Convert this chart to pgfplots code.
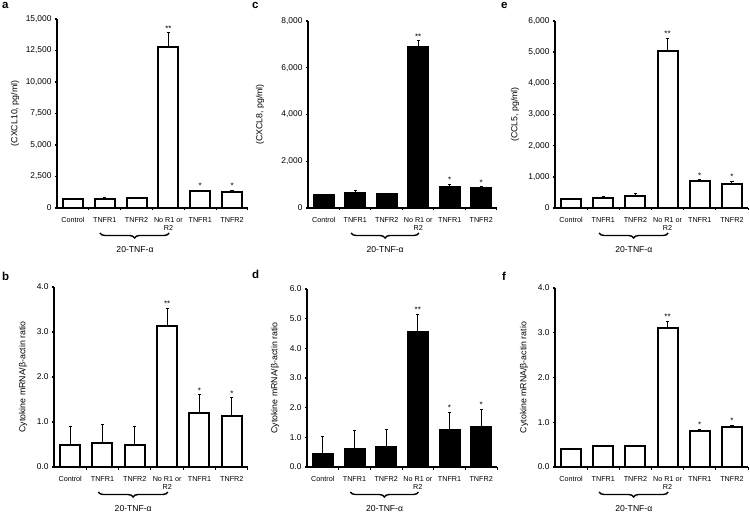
\documentclass[border=0pt]{standalone}
\usepackage{pgfplots}
\pgfplotsset{compat=1.18}
\usepackage{pgfplotstable}
\usepackage{fontspec}
\setmainfont{Liberation Sans}
\usetikzlibrary{decorations.pathreplacing}

\pgfplotstableread{
x y e
0.5 700 0
1.5 700 150
2.5 760 60
3.5 12750 1150
4.5 1320 100
5.5 1300 100
}\tabA
\pgfplotstableread{
x y e
0.5 560 0
1.5 660 100
2.5 600 0
3.5 6880 270
4.5 900 100
5.5 860 50
}\tabC
\pgfplotstableread{
x y e
0.5 300 20
1.5 330 50
2.5 400 60
3.5 5030 420
4.5 880 20
5.5 780 70
}\tabE
\pgfplotstableread{
x y e
0.5 0.48 0.42
1.5 0.53 0.41
2.5 0.50 0.40
3.5 3.13 0.40
4.5 1.19 0.41
5.5 1.14 0.40
}\tabB
\pgfplotstableread{
x y e
0.5 0.43 0.60
1.5 0.61 0.62
2.5 0.67 0.60
3.5 4.55 0.60
4.5 1.24 0.60
5.5 1.35 0.59
}\tabD
\pgfplotstableread{
x y e
0.5 0.41 0.0
1.5 0.46 0.01
2.5 0.48 0.01
3.5 3.10 0.15
4.5 0.81 0.03
5.5 0.90 0.03
}\tabF

\pgfplotsset{
  panel/.style={
    scale only axis,
    xmin=0, xmax=6, ymin=0,
    axis lines=left,
    axis line style={-, line width=1.8pt},
    clip=false,
    scaled y ticks=false,
    xtick={0.5,1.5,2.5,3.5,4.5,5.5},
    xticklabels={Control,TNFR1,TNFR2,{No R1 or\\R2},TNFR1,TNFR2},
    x tick label style={font=\fontsize{7.2}{8}\selectfont, align=center, yshift=-4pt},
    major x tick style={draw=none},
    minor xtick={1,2,3,4,5,6},
    minor x tick style={line width=1pt, black},
    minor tick length=2.5pt,
    major tick length=2pt,
    tick align=outside,
    y tick style={line width=1.4pt, black},
    y tick label style={font=\fontsize{8.4}{9}\selectfont},
    /pgf/number format/assume math mode=true,
    ylabel style={font=\fontsize{8.8}{10}\selectfont, at={(rel axis cs:0,0.5)}, anchor=center},
  },
  bars/.style={ybar, bar width=20pt, draw=black, line width=2pt,
    error bars/.cd, y dir=plus, y explicit,
    error bar style={line width=1pt},
    error mark options={rotate=90, mark size=1.6pt, line width=1pt},
    /pgfplots/.cd},
  stars/.style={draw=none, mark=none, nodes near coords, point meta=explicit symbolic,
    nodes near coords style={font=\fontsize{8}{8}\selectfont, anchor=south, inner sep=1.5pt}},
}

\newcommand{\tnfbrace}[2]{%
  \draw[decorate, decoration={brace, mirror, amplitude=5pt}, line width=1.4pt]
    ([yshift=-25pt]axis cs:#1,0) -- ([yshift=-25pt]axis cs:3.52,0);
  \node[font=\fontsize{8.6}{9}\selectfont] at ([yshift=-42pt]axis cs:#2,0) {20-TNF-α};
}

\begin{document}
\begin{tikzpicture}
\useasboundingbox (0,0) rectangle (750pt,517pt);

% panel a
\begin{axis}[panel, at={(57pt,309pt)}, anchor=south west, width=191pt, height=189pt,
  ymax=15000, ytick={0,2500,...,15000},
  /pgf/number format/.cd, 1000 sep={,}, /pgfplots/.cd,
  ylabel={(CXCL10, pg/ml)}, ylabel style={yshift=42pt}]
\addplot[bars, fill=white] table[x=x, y=y, y error=e] {\tabA};
\addplot[stars] coordinates {(3.5,13900) [**] (4.5,1420) [*] (5.5,1400) [*]};
\tnfbrace{1.35}{2.45}
\end{axis}

% panel c
\begin{axis}[panel, at={(308pt,309pt)}, anchor=south west, width=189pt, height=187pt,
  ymax=8000, ytick={0,2000,...,8000},
  /pgf/number format/.cd, 1000 sep={,}, /pgfplots/.cd,
  ylabel={(CXCL8, pg/ml)}, ylabel style={yshift=48pt}]
\addplot[bars, fill=black] table[x=x, y=y, y error=e] {\tabC};
\addplot[stars] coordinates {(3.5,7150) [**] (4.5,1000) [*] (5.5,910) [*]};
\tnfbrace{1.37}{2.45}
\end{axis}

% panel e
\begin{axis}[panel, at={(555pt,309pt)}, anchor=south west, width=193pt, height=187pt,
  ymax=6000, ytick={0,1000,...,6000},
  /pgf/number format/.cd, 1000 sep={,}, /pgfplots/.cd,
  ylabel={(CCL5, pg/ml)}, ylabel style={yshift=40pt}]
\addplot[bars, fill=white] table[x=x, y=y, y error=e] {\tabE};
\addplot[stars] coordinates {(3.5,5450) [**] (4.5,900) [*] (5.5,850) [*]};
\tnfbrace{1.37}{2.45}
\end{axis}

% panel b
\begin{axis}[panel, at={(54pt,50pt)}, anchor=south west, width=194pt, height=180pt,
  ymax=4, ytick={0,1,...,4},
  yticklabel style={/pgf/number format/.cd, fixed, fixed zerofill, precision=1},
  ylabel={Cytokine mRNA/β-actin ratio}, ylabel style={yshift=31pt}]
\addplot[bars, fill=white] table[x=x, y=y, y error=e] {\tabB};
\addplot[stars] coordinates {(3.5,3.53) [**] (4.5,1.60) [*] (5.5,1.54) [*]};
\tnfbrace{1.37}{2.45}
\end{axis}

% panel d
\begin{axis}[panel, at={(307pt,50pt)}, anchor=south west, width=190pt, height=178pt,
  ymax=6, ytick={0,1,...,6},
  yticklabel style={/pgf/number format/.cd, fixed, fixed zerofill, precision=1},
  ylabel={Cytokine mRNA/β-actin ratio}, ylabel style={yshift=32pt}]
\addplot[bars, fill=black] table[x=x, y=y, y error=e] {\tabD};
\addplot[stars] coordinates {(3.5,5.15) [**] (4.5,1.84) [*] (5.5,1.94) [*]};
\tnfbrace{1.37}{2.45}
\end{axis}

% panel f
\begin{axis}[panel, at={(555pt,50pt)}, anchor=south west, width=193pt, height=179pt,
  ymax=4, ytick={0,1,...,4},
  yticklabel style={/pgf/number format/.cd, fixed, fixed zerofill, precision=1},
  ylabel={Cytokine mRNA/β-actin ratio}, ylabel style={yshift=31pt}]
\addplot[bars, fill=white] table[x=x, y=y, y error=e] {\tabF};
\addplot[stars] coordinates {(3.5,3.25) [**] (4.5,0.84) [*] (5.5,0.93) [*]};
\tnfbrace{1.37}{2.45}
\end{axis}

\begin{scope}[every node/.style={font=\bfseries\fontsize{11.5}{11.5}\selectfont, anchor=base west, inner sep=0pt}]
\node at (2pt,508pt) {a};
\node at (252pt,508pt) {c};
\node at (501pt,508pt) {e};
\node at (2pt,236pt) {b};
\node at (252pt,238pt) {d};
\node at (502pt,236pt) {f};
\end{scope}
\end{tikzpicture}
\end{document}
